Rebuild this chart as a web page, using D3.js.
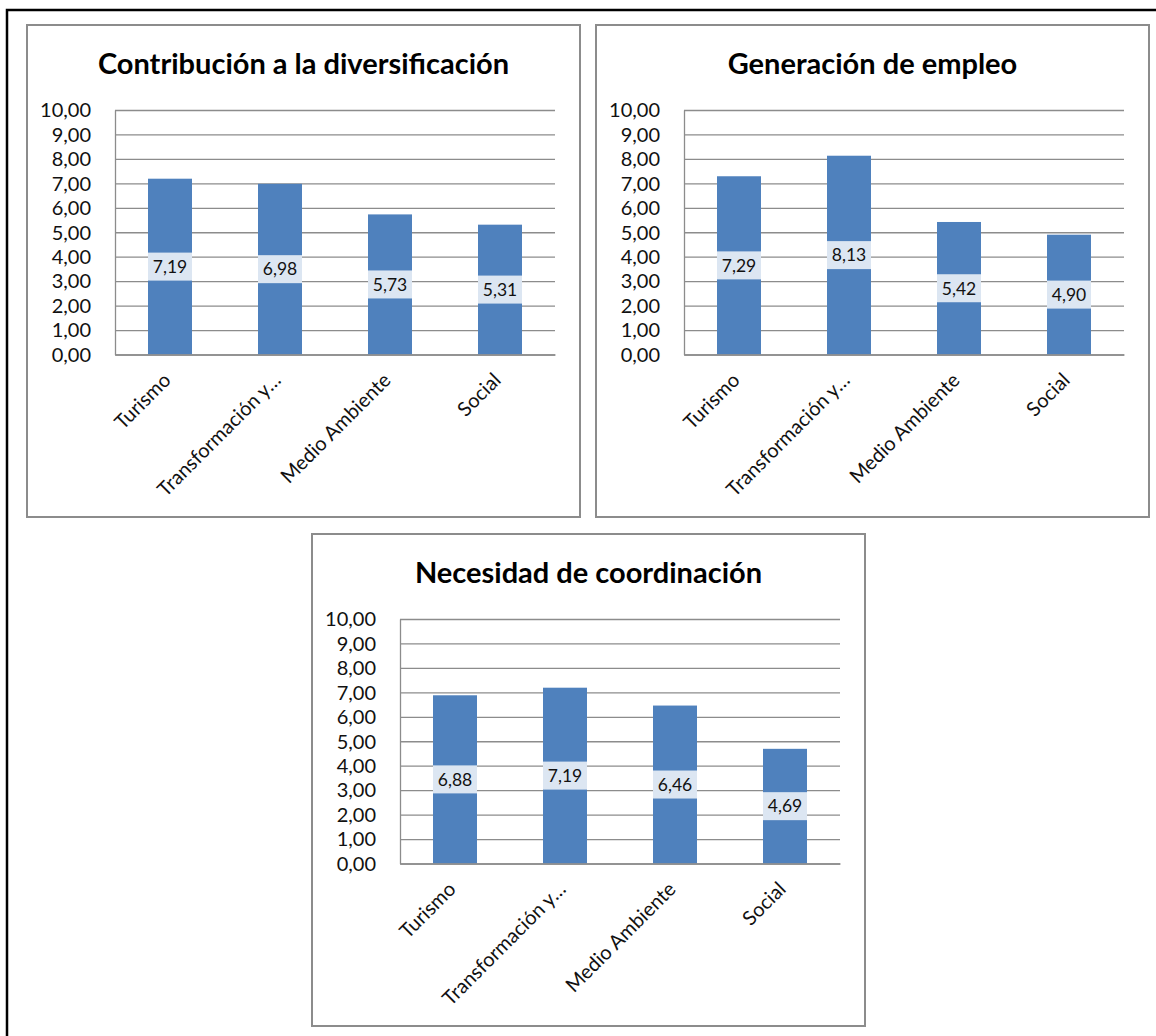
<!DOCTYPE html>
<html>
<head>
<meta charset="utf-8">
<script src="https://cdn.jsdelivr.net/npm/d3@7"></script>
<style>
body { margin: 0; background: #fff; }
svg text { font-family: Lato, "Open Sans", sans-serif; fill: #111; }
</style>
</head>
<body>
<script>
const width = 1156;
const height = 1036;

// data
const categories = ['Turismo', 'Transformación y…', 'Medio Ambiente', 'Social'];
const titles = ['Contribución a la diversificación', 'Generación de empleo', 'Necesidad de coordinación'];
const diversificacion = [7.19, 6.98, 5.73, 5.31];
const empleo = [7.29, 8.13, 5.42, 4.90];
const coordinacion = [6.88, 7.19, 6.46, 4.69];
const yTicks = [0, 1, 2, 3, 4, 5, 6, 7, 8, 9, 10];

const locale = d3.formatLocale({decimal: ',', thousands: '.', grouping: [3], currency: ['', '€']});
const fmt = locale.format('.2f');

const svg = d3.select('body').append('svg').attr('width', width).attr('height', height);

// black frame, only top and left are visible in the picture
svg.append('path')
    .attr('d', 'M7,1036V10H1156')
    .attr('fill', 'none')
    .attr('stroke', '#000')
    .attr('stroke-width', 2.5);

const panels = [
    {title: titles[0], values: diversificacion, x: 27, y: 25},
    {title: titles[1], values: empleo, x: 596, y: 25},
    {title: titles[2], values: coordinacion, x: 312, y: 534}
];
const pw = 553, ph = 492;
const m = {left: 88, right: 25, top: 85, bottom: 162.5};

panels.forEach(p => {
    const g = svg.append('g').attr('transform', `translate(${p.x},${p.y})`);

    g.append('rect')
        .attr('width', pw)
        .attr('height', ph)
        .attr('fill', '#fff')
        .attr('stroke', '#8c8c8c')
        .attr('stroke-width', 2);

    g.append('text')
        .attr('x', pw / 2)
        .attr('y', 49)
        .attr('text-anchor', 'middle')
        .style('font-weight', 'bold')
        .style('font-size', '29px')
        .style('fill', '#000')
        .text(p.title);

    const x = d3.scaleBand()
        .domain(categories)
        .range([m.left, pw - m.right])
        .paddingInner(0.6)
        .paddingOuter(0.3);

    const y = d3.scaleLinear()
        .domain([0, 10])
        .range([ph - m.bottom, m.top]);

    // y axis with gridlines
    const ya = g.append('g')
        .attr('transform', `translate(${m.left},0)`)
        .call(d3.axisLeft(y).tickValues(yTicks).tickFormat(fmt)
            .tickSize(-(pw - m.left - m.right)).tickSizeOuter(0).tickPadding(24));
    ya.selectAll('.tick line').attr('stroke', '#8c8c8c').attr('stroke-width', 1.3);
    ya.select('.domain').attr('stroke', '#8c8c8c').attr('stroke-width', 1.3);
    ya.selectAll('.tick text').style('font-size', '20px').attr('dy', '0.34em');

    // bars
    g.selectAll('.bar')
        .data(p.values)
        .enter()
        .append('rect')
        .attr('class', 'bar')
        .attr('x', (d, i) => x(categories[i]))
        .attr('y', d => y(d))
        .attr('width', x.bandwidth())
        .attr('height', d => y(0) - y(d))
        .attr('fill', '#4f81bd');

    // data labels
    const lab = g.selectAll('.lab')
        .data(p.values)
        .enter()
        .append('g')
        .attr('class', 'lab')
        .attr('transform', (d, i) => `translate(${x(categories[i]) + x.bandwidth() / 2},${(y(d) + y(0)) / 2})`);
    lab.append('rect')
        .attr('x', -x.bandwidth() / 2)
        .attr('y', -14)
        .attr('width', x.bandwidth())
        .attr('height', 28)
        .attr('fill', '#dce6f2');
    lab.append('text')
        .attr('text-anchor', 'middle')
        .attr('dy', '0.36em')
        .style('font-size', '17.5px')
        .text(d => fmt(d));

    // x axis
    const xa = g.append('g')
        .attr('transform', `translate(0,${y(0)})`)
        .call(d3.axisBottom(x).tickSize(0).tickSizeOuter(0).tickFormat(''));
    xa.select('.domain').attr('stroke', '#8c8c8c').attr('stroke-width', 1.3);

    g.selectAll('.xlab')
        .data(categories)
        .enter()
        .append('text')
        .attr('class', 'xlab')
        .attr('text-anchor', 'end')
        .style('font-size', '20px')
        .attr('transform', d => `translate(${x(d) + x.bandwidth() / 2 + 2},${y(0) + 27}) rotate(-45)`)
        .text(d => d);
});
</script>
</body>
</html>
